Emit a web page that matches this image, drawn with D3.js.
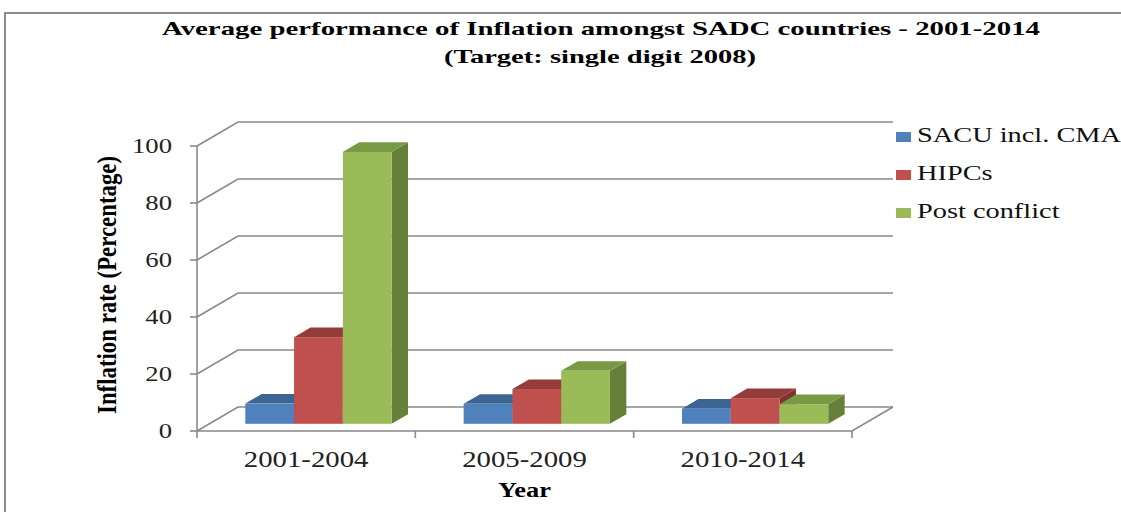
<!DOCTYPE html>
<html>
<head>
<meta charset="utf-8">
<script src="https://cdn.jsdelivr.net/npm/d3@7"></script>
<style>
  body { margin: 0; background: #fff; }
  svg { display: block; font-family: "Liberation Serif", "Times New Roman", serif; }
</style>
</head>
<body>
<div id="chart"></div>
<script>
// data
const categories = ["2001-2004", "2005-2009", "2010-2014"];
const seriesNames = ["SACU incl. CMA", "HIPCs", "Post conflict"];
const sacu = [7.1, 7.0, 5.3];
const hipcs = [30.4, 12.2, 9.0];
const postConflict = [95.4, 18.6, 6.9];
const yTicks = [0, 20, 40, 60, 80, 100];

const seriesValues = [sacu, hipcs, postConflict];
const front = ["#4F81BD", "#C0504D", "#9BBB59"],
      topC  = ["#3D6593", "#943C3A", "#789A45"],
      sideC = ["#35577F", "#7F3230", "#66803A"];

const width = 1121, height = 512;
const plotLeft = 197, plotRight = 852, plotBase = 431, plotTop = 146;
const depth = {dx: 41, dy: -24};
const barFront = 0.3, barDepth = 0.4;
const gridColor = "#898989";

const svg = d3.select("#chart").append("svg")
    .attr("width", width).attr("height", height);

// outer border (runs off the right/bottom edge)
svg.append("rect")
    .attr("x", 5).attr("y", 13)
    .attr("width", width + 20).attr("height", height + 20)
    .attr("fill", "none").attr("stroke", "#8a8a8a").attr("stroke-width", 2);

const x0 = d3.scaleBand().domain(categories).range([plotLeft, plotRight]);
const pad = x0.bandwidth() * 0.165;
const x1 = d3.scaleBand().domain(seriesNames).range([pad, x0.bandwidth() - pad]);
const y = d3.scaleLinear().domain([0, 100]).range([plotBase, plotTop]);

// stretch text horizontally to a given factor
function stretch(sel, sx) {
  sel.each(function() {
    const w = this.getComputedTextLength();
    d3.select(this).attr("textLength", w * sx).attr("lengthAdjust", "spacingAndGlyphs");
  });
}

// back wall gridlines + left wall diagonals
const grid = svg.append("g").attr("stroke", gridColor).attr("stroke-width", 1.6).attr("fill", "none");
grid.selectAll("path.grid").data(yTicks).enter().append("path")
    .attr("class", "grid")
    .attr("d", d => "M" + plotLeft + "," + y(d) + "L" + (plotLeft + depth.dx) + "," + (y(d) + depth.dy) +
                     "L" + (plotRight + depth.dx) + "," + (y(d) + depth.dy));
// floor front edge and right diagonal
grid.append("path")
    .attr("d", "M" + plotLeft + "," + plotBase + "L" + plotRight + "," + plotBase +
               "L" + (plotRight + depth.dx) + "," + (plotBase + depth.dy));
// y axis line with ticks
grid.append("path").attr("d", "M" + plotLeft + "," + plotTop + "L" + plotLeft + "," + plotBase);
grid.selectAll("path.ytick").data(yTicks).enter().append("path")
    .attr("class", "ytick")
    .attr("d", d => "M" + (plotLeft - 7) + "," + y(d) + "L" + plotLeft + "," + y(d));
// x ticks at category boundaries
const xt = categories.map(c => x0(c)).concat([plotRight]);
grid.selectAll("path.xtick").data(xt).enter().append("path")
    .attr("class", "xtick")
    .attr("d", d => "M" + d + "," + plotBase + "L" + d + "," + (plotBase + 7));

// tick labels
svg.append("g").selectAll("text").data(yTicks).enter().append("text")
    .attr("x", 172).attr("y", d => y(d) + 7)
    .attr("text-anchor", "end")
    .attr("font-size", 21).attr("fill", "#222")
    .text(d => d)
    .call(stretch, 1.27);

svg.append("g").selectAll("text").data(categories).enter().append("text")
    .attr("x", d => x0(d) + x0.bandwidth() / 2).attr("y", 467)
    .attr("text-anchor", "middle")
    .attr("font-size", 23).attr("fill", "#222")
    .text(d => d)
    .call(stretch, 1.25);

// 3D bars
const fdx = depth.dx * barFront, fdy = depth.dy * barFront;
const bdx = depth.dx * barDepth, bdy = depth.dy * barDepth;
const bars = [];
categories.forEach((c, i) => {
  seriesNames.forEach((s, j) => {
    bars.push({cat: c, s: j, value: seriesValues[j][i]});
  });
});
const w = x1.bandwidth();
const bar = svg.append("g").selectAll("g").data(bars).enter().append("g");
bar.append("path")
    .attr("fill", d => sideC[d.s])
    .attr("d", d => {
      const xa = x0(d.cat) + x1(seriesNames[d.s]) + fdx + w;
      const yt = y(d.value) + fdy, yb = y(0) + fdy;
      return "M" + xa + "," + yt + "L" + (xa + bdx) + "," + (yt + bdy) +
             "L" + (xa + bdx) + "," + (yb + bdy) + "L" + xa + "," + yb + "Z";
    });
bar.append("path")
    .attr("fill", d => topC[d.s])
    .attr("d", d => {
      const xa = x0(d.cat) + x1(seriesNames[d.s]) + fdx;
      const yt = y(d.value) + fdy;
      return "M" + xa + "," + yt + "L" + (xa + bdx) + "," + (yt + bdy) +
             "L" + (xa + w + bdx) + "," + (yt + bdy) + "L" + (xa + w) + "," + yt + "Z";
    });
bar.append("rect")
    .attr("fill", d => front[d.s])
    .attr("x", d => x0(d.cat) + x1(seriesNames[d.s]) + fdx)
    .attr("y", d => y(d.value) + fdy)
    .attr("width", w)
    .attr("height", d => y(0) - y(d.value));

// titles
svg.append("text")
    .attr("x", 601).attr("y", 35).attr("text-anchor", "middle")
    .attr("font-size", 19).attr("font-weight", "bold")
    .attr("textLength", 878).attr("lengthAdjust", "spacingAndGlyphs")
    .text("Average performance of Inflation amongst SADC countries - 2001-2014");
svg.append("text")
    .attr("x", 600).attr("y", 63).attr("text-anchor", "middle")
    .attr("font-size", 19).attr("font-weight", "bold")
    .attr("textLength", 312).attr("lengthAdjust", "spacingAndGlyphs")
    .text("(Target: single digit 2008)");

svg.append("text")
    .attr("transform", "translate(116,285) scale(1.3,1) rotate(-90)")
    .attr("text-anchor", "middle")
    .attr("font-size", 21).attr("font-weight", "bold")
    .attr("textLength", 258).attr("lengthAdjust", "spacingAndGlyphs")
    .text("Inflation rate (Percentage)");

svg.append("text")
    .attr("x", (plotLeft + plotRight) / 2).attr("y", 497).attr("text-anchor", "middle")
    .attr("font-size", 22).attr("font-weight", "bold")
    .text("Year")
    .call(stretch, 1.2);

// legend
const legend = svg.append("g").selectAll("g").data(seriesNames).enter().append("g")
    .attr("transform", (d, i) => "translate(896," + (132 + i * 38) + ")");
legend.append("rect")
    .attr("width", 15).attr("height", 10)
    .attr("fill", (d, i) => front[i]);
legend.append("text")
    .attr("x", 21).attr("y", 10)
    .attr("font-size", 21).attr("fill", "#111")
    .text(d => d)
    .call(stretch, 1.35);
</script>
</body>
</html>
